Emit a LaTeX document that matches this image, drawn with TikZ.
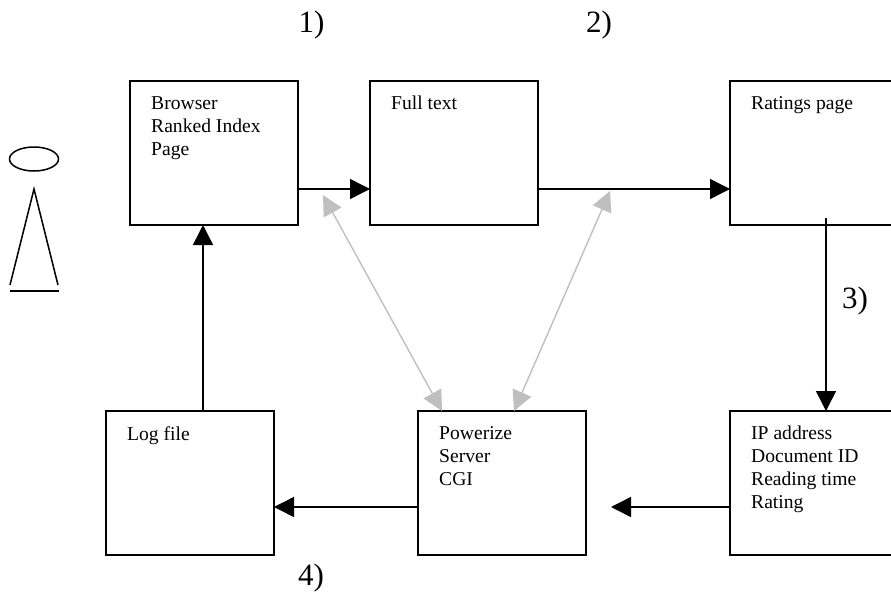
\documentclass[tikz,border=0pt]{standalone}
\usepackage{fontspec}
\setmainfont{Liberation Serif}
\usetikzlibrary{arrows.meta}
\tikzset{
  boxnode/.style={draw=black,line width=1.5pt,anchor=north west,outer sep=0pt,inner sep=0pt},
  boxtext/.style={anchor=north west,align=left,inner sep=0pt,font=\fontsize{19.6}{23}\selectfont},
  steplabel/.style={anchor=base west,font=\fontsize{31}{35}\selectfont,inner sep=0pt},
  blackarrow/.style={draw=black,line width=1.5pt,-{Triangle[length=20pt,width=20pt]}},
  greyarrow/.style={draw=lightgrey,line width=1.4pt,{Triangle[length=20pt,width=20pt]}-{Triangle[length=20pt,width=20pt]}},
  figureline/.style={draw=black,line width=1.5pt}
}
\definecolor{lightgrey}{rgb}{0.75,0.75,0.75}
\newcommand{\drawflowbox}[4]{
  \node[boxnode,minimum width=168pt,minimum height=144pt] (#1) at #2 {};
  \node[boxtext] (#1text) at ([xshift=21pt,yshift=-#3pt]#1.north west) {#4};
}

\begin{document}
\begin{tikzpicture}[x=1pt,y=-1pt]
      \useasboundingbox (0,0) rectangle (891,594);
      \clip (0,0) rectangle (891,594);
      \node[steplabel] (one) at (298.5,33) {1)};
      \node[steplabel] (two) at (586,33) {2)};
      \node[steplabel] (three) at (842,308) {3)};
      \node[steplabel] (four) at (298,585) {4)};

      \drawflowbox{browser}{(130,81)}{15}{Browser\\Ranked Index\\Page};
      \drawflowbox{fulltext}{(370,81)}{15}{Full text};
      \drawflowbox{ratings}{(730,81)}{15}{Ratings page};
      \drawflowbox{logfile}{(106,411)}{15}{Log file};
      \drawflowbox{server}{(418,411)}{15}{Powerize\\Server\\CGI};
      \drawflowbox{record}{(730,411)}{15}{IP address\\Document ID\\Reading time\\Rating};

      %% person
      \draw[figureline] (34,159) ellipse (24.5 and 12);
      \draw[figureline] (10,285) -- (34,189) -- (58,285);
      \draw[figureline] (10,291) -- (59,291);

      \coordinate (ratingsdrop) at (826,218);
      \coordinate (recordend) at (611,507);
      \coordinate (browserfoot) at (323,195);
      \coordinate (fulltextfoot) at (610,191);

      %% browser.east is at y=153, arrows run at y=189
      \draw[blackarrow] ([yshift=-36pt]browser.east) -- ([yshift=-36pt]fulltext.west);
      \draw[blackarrow] ([yshift=-36pt]fulltext.east) -- ([yshift=-36pt]ratings.west);
      \draw[blackarrow] (ratingsdrop) -- (ratingsdrop |- record.north);
      \draw[blackarrow] (record.west |- recordend) -- (recordend);
      \draw[blackarrow] (server.west |- recordend) -- (logfile.east |- recordend);
      \draw[blackarrow] ([xshift=13pt]logfile.north) -- ([xshift=-11pt]browser.south);

      \draw[greyarrow] (browserfoot) -- ([xshift=24pt]server.north west);
      \draw[greyarrow] (fulltextfoot) -- ([xshift=96pt]server.north west);
\end{tikzpicture}
\end{document}
